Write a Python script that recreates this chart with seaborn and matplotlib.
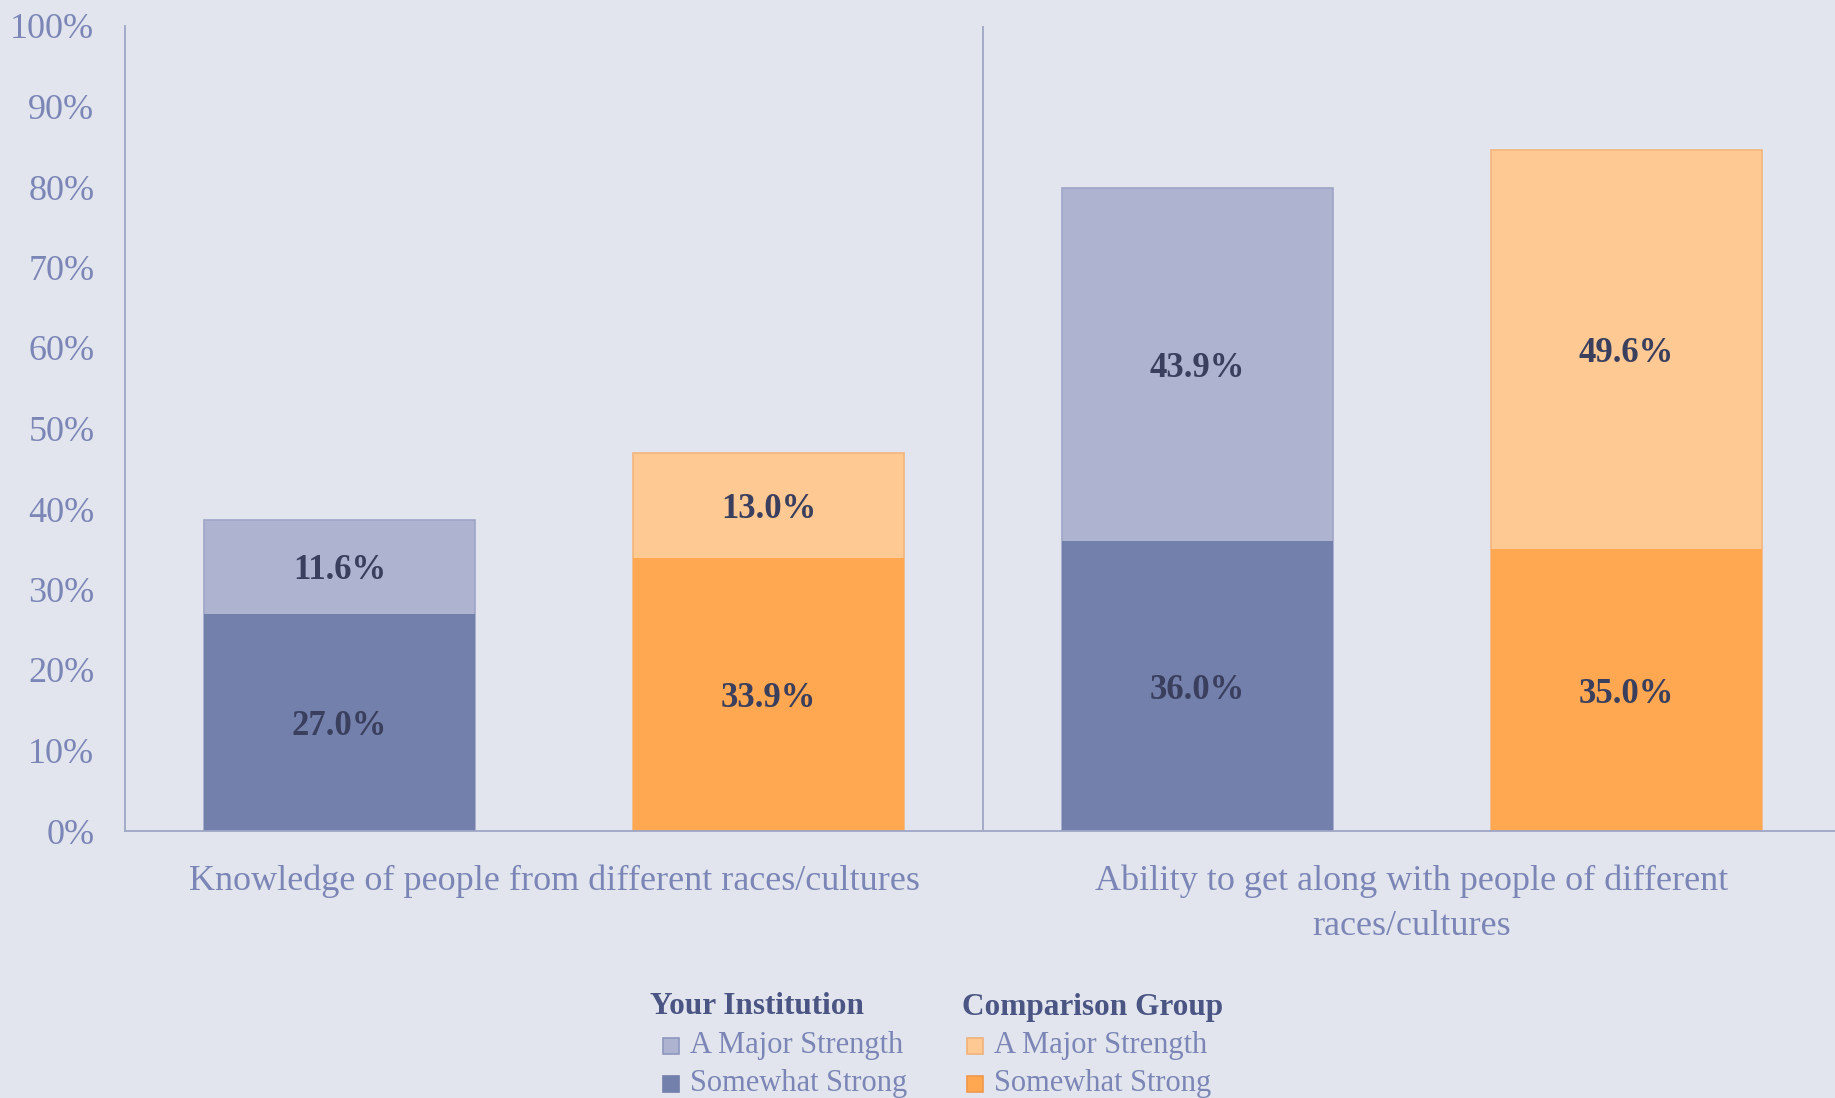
import matplotlib
matplotlib.use("Agg")
import matplotlib.pyplot as plt
import seaborn as sns
import pandas as pd
from matplotlib.patches import Rectangle

# ---- data ----
bar_ids = ["K-Inst", "K-Comp", "A-Inst", "A-Comp"]
somewhat_strong = [27.0, 33.9, 36.0, 35.0]
major_strength = [11.6, 13.0, 43.9, 49.6]
categories = ["Knowledge of people from different races/cultures",
              "Ability to get along with people of different\nraces/cultures"]
yticks = [0, 10, 20, 30, 40, 50, 60, 70, 80, 90, 100]
legend_groups = ["Your Institution", "Comparison Group"]
legend_items = ["A Major Strength", "Somewhat Strong"]

# ---- styles ----
BG = "#e2e5ee"
DARK_BLUE = "#7480ac"
LIGHT_BLUE = "#aeb3cf"
ORANGE = "#ffa851"
LIGHT_ORANGE = "#ffc994"
AXIS = "#9fa6c6"
TICK_TXT = "#7b86b6"
LABEL_TXT = "#3a3f5e"
TITLE_TXT = "#4b5583"

sns.set_theme(style="white")
plt.rcParams["font.family"] = ["Liberation Serif", "DejaVu Serif"]

df = pd.DataFrame({"bar": bar_ids,
                   "low": somewhat_strong,
                   "high": major_strength})
df["total"] = df["low"] + df["high"]

fig = plt.figure(figsize=(18.35, 10.98), dpi=100, facecolor=BG)
ax = fig.add_axes([125 / 1835, 267 / 1098, 1716 / 1835, 805 / 1098])
ax.set_facecolor(BG)

top_pal = {b: c for b, c in zip(bar_ids, [LIGHT_BLUE, LIGHT_ORANGE, LIGHT_BLUE, LIGHT_ORANGE])}
low_pal = {b: c for b, c in zip(bar_ids, [DARK_BLUE, ORANGE, DARK_BLUE, ORANGE])}

sns.barplot(data=df, x="bar", y="total", hue="bar", palette=top_pal,
            legend=False, width=0.63, ax=ax, saturation=1, linewidth=0)
n_top = len(ax.patches)
sns.barplot(data=df, x="bar", y="low", hue="bar", palette=low_pal,
            legend=False, width=0.63, ax=ax, saturation=1, linewidth=0)

edge_cols = ["#9ea5c7", "#f2b57c", "#9ea5c7", "#f2b57c"]
for p, ec in zip(ax.patches[:n_top], edge_cols):
    p.set_edgecolor(ec)
    p.set_linewidth(1.2)

# value labels
for i, (lo, hi) in enumerate(zip(df["low"], df["high"])):
    ax.text(i, lo / 2, f"{lo:.1f}%", ha="center", va="center_baseline",
            fontsize=25, fontweight="bold", color=LABEL_TXT)
    ax.text(i, lo + hi / 2, f"{hi:.1f}%", ha="center", va="center_baseline",
            fontsize=25, fontweight="bold", color=LABEL_TXT)

ax.set_xlim(-0.5, 3.5)
ax.set_ylim(0, 100)
ax.set_yticks(yticks)
ax.set_yticklabels([f"{t}%" for t in yticks], fontsize=26, color=TICK_TXT)
ax.tick_params(axis="y", length=0, pad=22)
ax.set_xticks([0.5, 2.5])
ax.set_xticklabels(categories, fontsize=26, color=TICK_TXT, linespacing=1.5, va="top")
ax.tick_params(axis="x", length=0, pad=24)
ax.set_xlabel("")
ax.set_ylabel("")

for s in ["top", "right"]:
    ax.spines[s].set_visible(False)
for s in ["left", "bottom"]:
    ax.spines[s].set_color(AXIS)
    ax.spines[s].set_linewidth(1.3)
ax.axvline(1.5, color=AXIS, lw=1.3)

# ---- legend (manual) ----
W, H = 1835, 1098
def fx(x):
    return x / W
def fy(y):
    return 1 - y / H

cols = [(650, 663, [LIGHT_BLUE, DARK_BLUE], ["#8f97bd", DARK_BLUE]),
        (962, 967, [LIGHT_ORANGE, ORANGE], ["#f0b27a", "#f0984a"])]
for (tx, mx, fills, edges), title in zip(cols, legend_groups):
    fig.text(fx(tx), fy(1007), title, fontsize=22.5, fontweight="bold",
             color=TITLE_TXT, ha="left", va="center")
    for r, (lab, fc, ec) in enumerate(zip(legend_items, fills, edges)):
        yc = 1046 + r * 38
        fig.patches.append(Rectangle((fx(mx), fy(yc + 8)), 16 / W, 16 / H,
                                     transform=fig.transFigure, facecolor=fc,
                                     edgecolor=ec, lw=1.2))
        fig.text(fx(mx + 27), fy(yc), lab, fontsize=22, color=TICK_TXT,
                 ha="left", va="center")

fig.savefig("out.png", dpi=100, facecolor=BG)
